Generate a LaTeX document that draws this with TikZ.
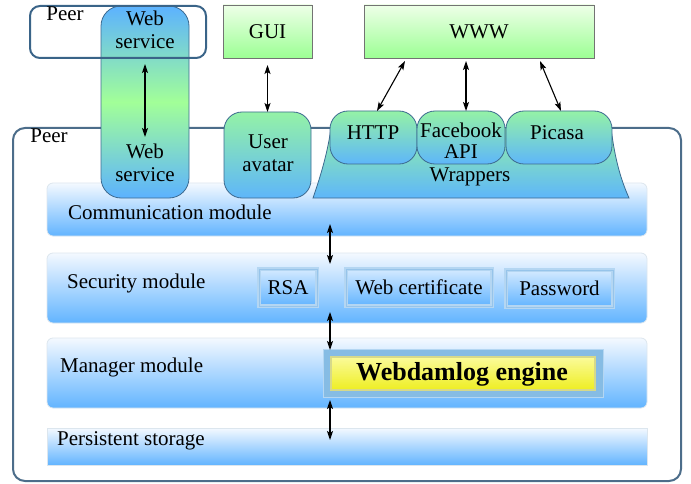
\documentclass[tikz,border=0pt]{standalone}
\usepackage{fontspec}
\setmainfont{Liberation Serif}
\usetikzlibrary{arrows.meta,calc}
\definecolor{peerc}{HTML}{4C6D8A}
\definecolor{peertop}{HTML}{3A6488}
\definecolor{wsblue}{HTML}{5CB2FF}
\definecolor{wsgreen}{HTML}{A2FF98}
\definecolor{lgreen}{HTML}{EEFFE8}
\definecolor{mgreen}{HTML}{9CFF94}
\definecolor{tgreen}{HTML}{94F2A6}
\definecolor{bblue}{HTML}{5EB6FA}
\definecolor{barTop}{HTML}{F4F9FF}
\definecolor{barBot}{HTML}{62B4FF}
\definecolor{edgeb}{HTML}{3C6A90}
\definecolor{barEdge}{HTML}{DCE6EE}
\definecolor{glow}{HTML}{B4D6F2}
\definecolor{glowin}{HTML}{96C4EA}
\definecolor{boxTop}{HTML}{D4EAFF}
\definecolor{engOut}{HTML}{86BCE4}
\definecolor{engRing}{HTML}{D6D98A}
\definecolor{yTop}{HTML}{FBFB9A}
\definecolor{yBot}{HTML}{EEEE22}
\tikzset{
  peerbox/.style={draw=peerc, line width=2pt, rounded corners=12},
  modbar/.style={draw=barEdge, line width=0.8pt, rounded corners=6, top color=barTop, bottom color=barBot, inner sep=0pt, outer sep=0pt},
  greenbox/.style={draw=black!55, line width=0.8pt, top color=lgreen, bottom color=mgreen, inner sep=0pt, outer sep=0pt},
  pill/.style={draw=edgeb, line width=0.8pt, rounded corners=18, top color=tgreen, bottom color=bblue, inner sep=0pt, outer sep=0pt},
  subbox/.style={draw=glow, line width=4pt, top color=boxTop, bottom color=barBot, inner sep=0pt, outer sep=0pt},
  lbl/.style={inner sep=0pt, align=center},
  biarrow/.style={line width=1.1pt, {Stealth[length=9pt,width=6pt,inset=2pt]}-{Stealth[length=9pt,width=6pt,inset=2pt]}},
}
\begin{document}
\begin{tikzpicture}[x=1pt,y=-1pt, font=\fontsize{21}{21}\selectfont]
\useasboundingbox (0,0) rectangle (691,484);

% big peer
\node[peerbox, minimum width=668, minimum height=353, anchor=north west, inner sep=0pt, outer sep=0pt] (peer) at (13,128) {};
\node[lbl] (peerL) at (49,136) {Peer};

% module bars
\node[modbar, minimum width=600, minimum height=53, anchor=north west] (comm) at (47,183) {};
\node[modbar, minimum width=600, minimum height=70, anchor=north west] (sec) at (47,253) {};
\node[modbar, minimum width=600, minimum height=70, anchor=north west] (man) at (47,338) {};
\node[modbar, rounded corners=0, minimum width=600, minimum height=37, anchor=north west] (pers) at (47,428) {};

\node[lbl, anchor=west] (commL) at (68,212) {Communication module};
\node[lbl, anchor=west] (secL) at (67,283) {Security module};
\node[lbl, anchor=west] (manL) at (60,367) {Manager module};
\node[lbl, anchor=west] (persL) at (57,441) {Persistent storage};

% security sub boxes
\node[subbox, minimum width=58, minimum height=37, anchor=north west] (rsa) at (259,269) {};
\node[subbox, minimum width=146, minimum height=37, anchor=north west] (cert) at (346,269) {};
\node[subbox, minimum width=107, minimum height=37, anchor=north west] (pwd) at (506,270) {};
\draw[glowin, line width=1pt] (rsa.north west) rectangle (rsa.south east);
\draw[glowin, line width=1pt] (cert.north west) rectangle (cert.south east);
\draw[glowin, line width=1pt] (pwd.north west) rectangle (pwd.south east);
\node[lbl] (rsaL) at (rsa.center) {RSA};
\node[lbl] (certL) at (cert.center) {Web certificate};
\node[lbl] (pwdL) at (pwd.center) {Password};

% engine
\node[fill=engOut, draw=glow, line width=1pt, minimum width=280, minimum height=48, anchor=north west, inner sep=0pt, outer sep=0pt] (engO) at (323,349) {};
\node[draw=engRing, line width=2.5pt, top color=yTop, bottom color=yBot, minimum width=264, minimum height=33, anchor=north west, inner sep=0pt, outer sep=0pt] (eng) at (331,357) {};
\node[lbl, font=\fontsize{26}{26}\selectfont\bfseries] (engL) at (462,374) {Webdamlog engine};

% inter-module arrows
\coordinate (a1) at (330,224);
\coordinate (a2) at (330,264);
\coordinate (b1) at (330,312);
\coordinate (b2) at (330,350);
\coordinate (c1) at (330,400);
\coordinate (c2) at (330,440);
\draw[biarrow] (a1) -- (a2);
\draw[biarrow] (b1) -- (b2);
\draw[biarrow] (c1) -- (c2);

% web service pill
\node[draw=edgeb, line width=0.8pt, rounded corners=20, top color=wsblue, bottom color=wsblue, middle color=wsgreen, minimum width=88, minimum height=192, anchor=north west, inner sep=0pt, outer sep=0pt] (ws) at (101,6) {};
\node[lbl, font=\fontsize{21}{23}\selectfont] (wsT) at (145,30) {Web\\service};
\node[lbl, font=\fontsize{21}{23}\selectfont] (wsB) at (145,163) {Web\\service};
\coordinate (ws1) at (145,64);
\coordinate (ws2) at (145,137);
\draw[biarrow] (ws1) -- (ws2);

% top peer box
\node[draw=peertop, line width=2pt, rounded corners=10, minimum width=176, minimum height=52, anchor=north west, inner sep=0pt, outer sep=0pt] (peer2) at (30,6) {};
\node[lbl] (peer2L) at (65,14) {Peer};

% GUI and WWW
\node[greenbox, minimum width=89, minimum height=53, anchor=north west] (gui) at (223,5) {};
\node[lbl] (guiL) at (gui.center) {GUI};
\node[greenbox, minimum width=230, minimum height=53, anchor=north west] (www) at (364,5) {};
\node[lbl] (wwwL) at (www.center) {WWW};

% user avatar
\node[pill, minimum width=87, minimum height=86, anchor=north west] (ua) at (224,112) {};
\node[lbl, font=\fontsize{21}{23}\selectfont] (uaL) at (268,153) {User\\avatar};
\draw[biarrow, shorten <=7pt] (gui.south) -- (ua.north);

% wrappers
\path[draw=edgeb, line width=0.8pt, top color=tgreen, bottom color=bblue]
  (313,198) .. controls (322,172) and (328,150) .. (331,128) -- (611,128)
  .. controls (615,160) and (621,180) .. (629,198) -- cycle;
\node[lbl] (wrapL) at (470,177) {Wrappers};

\node[pill, minimum width=87, minimum height=53, anchor=north west] (http) at (330,111) {};
\node[pill, minimum width=88, minimum height=53, anchor=north west] (fb) at (417,111) {};
\node[pill, minimum width=106, minimum height=53, anchor=north west] (pic) at (506,111) {};
\node[lbl] (httpL) at (373,133) {HTTP};
\node[lbl, font=\fontsize{21}{21}\selectfont] (fbL) at (461,141) {Facebook\\API};
\node[lbl] (picL) at (557,133) {Picasa};

\coordinate (w1) at (405,61);
\coordinate (w2) at (466,61);
\coordinate (w3) at (540,61);
\coordinate (h1) at (377,111);
\coordinate (h2) at (466,111);
\coordinate (h3) at (561,111);
\draw[biarrow] (w1) -- (h1);
\draw[biarrow] (w2) -- (h2);
\draw[biarrow] (w3) -- (h3);
\end{tikzpicture}
\end{document}
